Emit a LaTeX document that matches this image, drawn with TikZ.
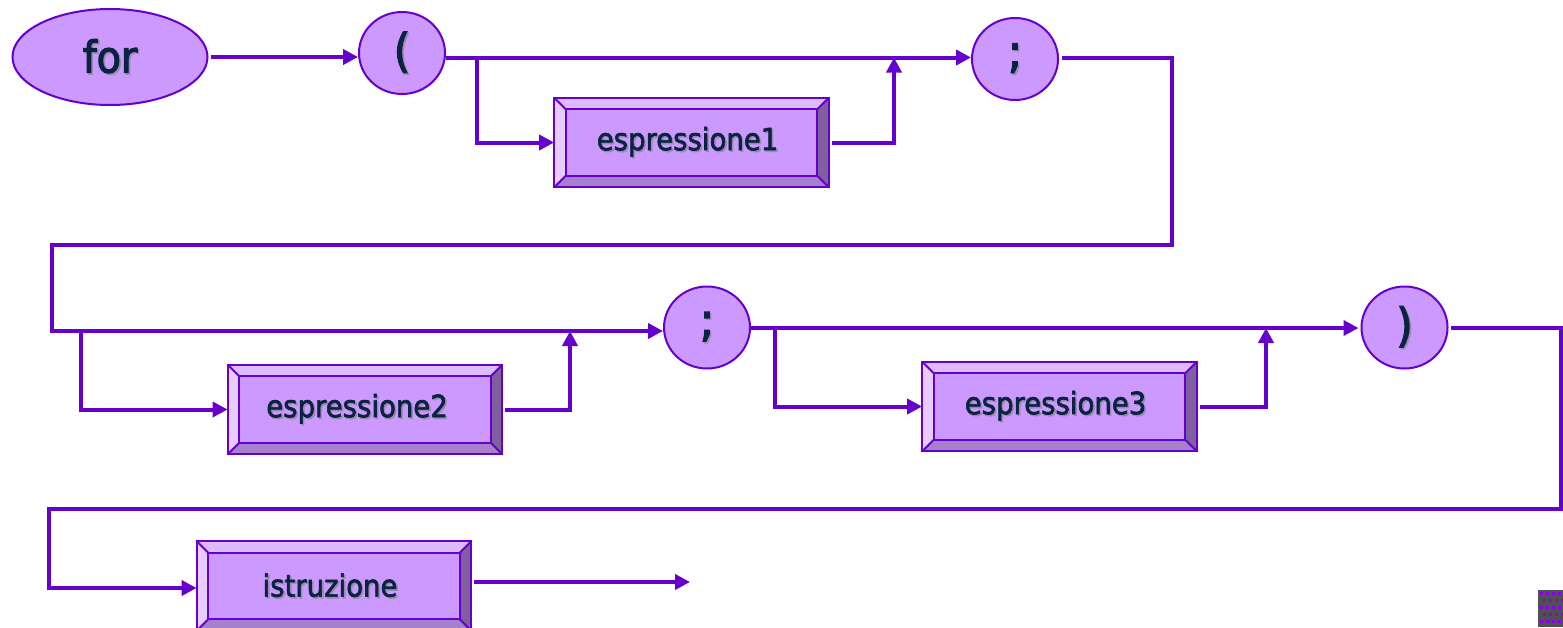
\documentclass[tikz,border=0pt]{standalone}
\usepackage{fontspec}
\setmainfont{DejaVu Sans Condensed}
\newfontfamily\txtfont{DejaVu Sans Condensed}[FakeBold=2]
\newfontfamily\kwfont{DejaVu Sans Condensed}[FakeBold=2.6]
\newfontfamily\symfont{DejaVu Sans Condensed}[FakeBold=3]
\usetikzlibrary{arrows.meta,shapes.geometric,calc}
\definecolor{lc}{HTML}{6600CC}
\definecolor{pf}{HTML}{CC99FF}
\definecolor{tc}{HTML}{0A2342}
\definecolor{shc}{HTML}{9A8AAE}
\definecolor{bvt}{HTML}{DDBBFF}
\definecolor{bvl}{HTML}{E6CCFF}
\definecolor{bvr}{HTML}{7F5F9F}
\definecolor{bvb}{HTML}{A680CC}
\definecolor{dg}{HTML}{505050}
\definecolor{dp}{HTML}{8800EE}
\newcommand\shtxt[1]{\makebox[0pt][l]{\raisebox{-0.8pt}{\hspace{0.8pt}\textcolor{shc}{#1}}}#1}
\newcommand\bevelbox[1]{%
  \fill[bvt] (#1.north west) -- (#1.north east) -- ([xshift=-5.75pt,yshift=-5.75pt]#1.north east) -- ([xshift=5.75pt,yshift=-5.75pt]#1.north west) -- cycle;
  \fill[bvl] (#1.north west) -- (#1.south west) -- ([xshift=5.75pt,yshift=5.75pt]#1.south west) -- ([xshift=5.75pt,yshift=-5.75pt]#1.north west) -- cycle;
  \fill[bvr] (#1.north east) -- (#1.south east) -- ([xshift=-5.75pt,yshift=5.75pt]#1.south east) -- ([xshift=-5.75pt,yshift=-5.75pt]#1.north east) -- cycle;
  \fill[bvb] (#1.south west) -- (#1.south east) -- ([xshift=-5.75pt,yshift=5.75pt]#1.south east) -- ([xshift=5.75pt,yshift=5.75pt]#1.south west) -- cycle;
  \draw[bline] (#1.north west) rectangle (#1.south east);
  \draw[bline] ([xshift=5.75pt,yshift=-5.75pt]#1.north west) rectangle ([xshift=-5.75pt,yshift=5.75pt]#1.south east);
  \draw[bline] (#1.north west) -- ([xshift=5.75pt,yshift=-5.75pt]#1.north west);
  \draw[bline] (#1.north east) -- ([xshift=-5.75pt,yshift=-5.75pt]#1.north east);
  \draw[bline] (#1.south west) -- ([xshift=5.75pt,yshift=5.75pt]#1.south west);
  \draw[bline] (#1.south east) -- ([xshift=-5.75pt,yshift=5.75pt]#1.south east);
}
\tikzset{
  bline/.style={draw=lc,line width=1pt},
  conn/.style={draw=lc,line width=2pt},
  arr/.style={conn,-{Triangle[length=7.5pt,width=7.5pt]}},
  term/.style={ellipse,draw=lc,fill=pf,line width=1pt,inner sep=0pt,text=tc},
  kw/.style={term,minimum width=97.5pt,minimum height=48pt,font=\kwfont\fontsize{22}{24}\selectfont},
  sym/.style={term,minimum width=43pt,minimum height=41pt,font=\symfont\fontsize{23}{26}\selectfont},
  boxn/.style={rectangle,fill=pf,draw=none,minimum width=137pt,minimum height=44.5pt,inner sep=0pt},
  boxt/.style={text=tc,font=\txtfont\fontsize{15.3}{18}\selectfont},
}
\begin{document}
\begin{tikzpicture}[x=0.5pt,y=-0.5pt]
\clip (0,0) rectangle (1563,627);
\fill[white] (0,0) rectangle (1563,627);

% nodes
\node[kw] (for) at (110,57) {\shtxt{for}};
\node[sym] (p1) at (402,53) {\shtxt{(}};
\node[sym] (s1) at (1015,59) {\shtxt{;}};
\node[sym] (s2) at (707,327.5) {\shtxt{;}};
\node[sym] (rp) at (1404.5,327.5) {\shtxt{)}};

\node[boxn] (e1) at (691.5,142.5) {};
\bevelbox{e1}
\node[boxt] (e1t) at ([xshift=-2pt]e1) {\shtxt{espressione1}};
\node[boxn] (e2) at (365,409.5) {};
\bevelbox{e2}
\node[boxt] (e2t) at ([xshift=-4pt]e2) {\shtxt{espressione2}};
\node[boxn] (e3) at (1059.5,406.5) {};
\bevelbox{e3}
\node[boxt] (e3t) at ([xshift=-2pt]e3) {\shtxt{espressione3}};
\node[boxn] (ist) at (334,586) {};
\bevelbox{ist}
\node[boxt] (istt) at ([xshift=-2pt]ist) {\shtxt{istruzione}};

% coordinates
\coordinate (r1) at (0,57.5);
\coordinate (b1) at (477,57.5);
\coordinate (j1) at (894,57.5);
\coordinate (k1) at (1172,245);
\coordinate (k2) at (52,331);
\coordinate (b2) at (81,331);
\coordinate (j2) at (570,331);
\coordinate (r2) at (0,328);
\coordinate (b3) at (775,328);
\coordinate (j3) at (1266,328);
\coordinate (k3) at (1561,509);
\coordinate (k4) at (49,588);
\coordinate (fin) at (690,582);

% connectors
\draw[arr] ([xshift=1pt]for.east) -- (p1.west |- for.east);
\draw[arr] (p1.east |- r1) -- (s1.west |- r1);
\draw[arr] (b1) |- (e1.west);
\draw[arr] ([xshift=1.5pt]e1.east) -| (j1);
\draw[arr] ([xshift=1.5pt]s1.east |- r1) -| (k1) -| (k2) -- (s2.west |- k2);
\draw[arr] (b2) |- (e2.west);
\draw[arr] ([xshift=1.5pt]e2.east) -| (j2);
\draw[arr] (s2.east |- r2) -- ([xshift=-1pt]rp.west |- r2);
\draw[arr] (b3) |- (e3.west);
\draw[arr] ([xshift=1.5pt]e3.east) -| (j3);
\draw[arr] ([xshift=1pt]rp.east) -| (k3) -| (k4) -- (ist.west |- k4);
\draw[arr] ([xshift=1.5pt]ist.east |- fin) -- (fin);

% small textured square
\fill[dg] (1538,590) rectangle (1563,627);
\foreach \i in {0,...,3}{\foreach \j in {0,...,4}{
  \fill[dp] ({1540+\i*6+mod(\j,2)*3},{592+\j*7}) rectangle ++(3,3);
}}
\end{tikzpicture}
\end{document}
